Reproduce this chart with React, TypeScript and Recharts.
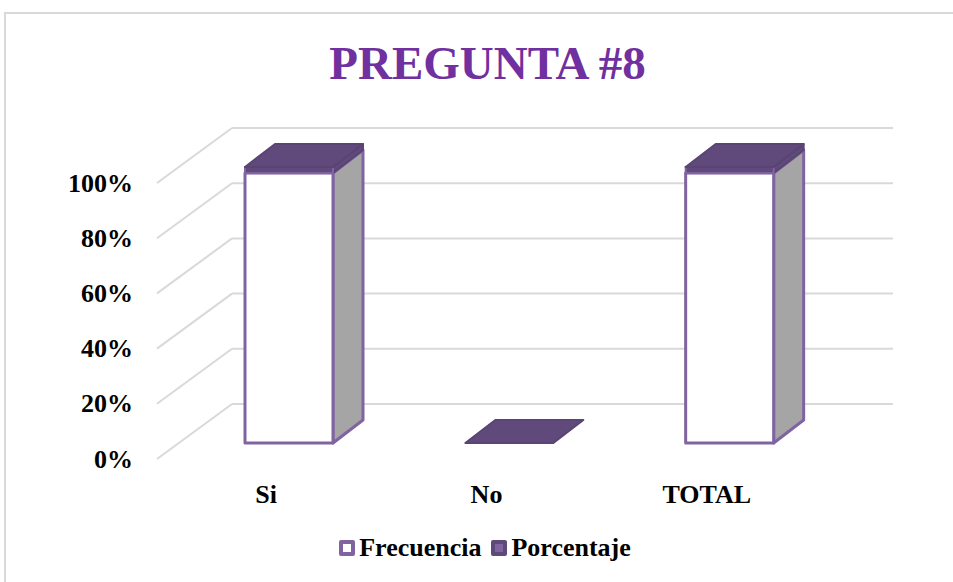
import React from 'react';
import { BarChart, Bar, XAxis, YAxis, CartesianGrid } from 'recharts';

const categories = ['Si', 'No', 'TOTAL'];
const frecuencia = [97.8, 0, 97.8];
const porcentaje = [2.2, 0, 2.2];
const yTicks = [0, 20, 40, 60, 80, 100];

const seriesNames = ['Frecuencia', 'Porcentaje'];

const data = categories.map((name, i) => ({
  name,
  frecuencia: frecuencia[i],
  porcentaje: porcentaje[i],
}));

const W = 953;
const H = 582;
const PLOT_LEFT = 179;
const PLOT_RIGHT = 840;
const PLOT_TOP = 167;
const PLOT_BOTTOM = 443;
const Y_AXIS_W = 60;
const X_AXIS_H = 40;

// depth offsets for the fake 3D look
const BAR_DX = 30;
const BAR_DY = -23;
const FLOOR_DX = -22;
const FLOOR_DY = 16;
const WALL_DX = 53;
const WALL_DY = -39;

const PURPLE = '#8064a2';
const DARK_PURPLE = '#604a7b';
const GRID = '#d9d9d9';
const FONT = '"Liberation Serif", "Times New Roman", serif';

const FrecuenciaShape = (props: any) => {
  const { x, y, width, height } = props;
  if (!height || height <= 0) return <g />;
  const side = `${x + width},${y + height} ${x + width + BAR_DX},${y + height + BAR_DY} ${x + width + BAR_DX},${y + BAR_DY} ${x + width},${y}`;
  return (
    <g>
      <polygon points={side} fill="#a5a5a5" stroke={PURPLE} strokeWidth={3} strokeLinejoin="round" />
      <rect x={x} y={y} width={width} height={height} fill="#ffffff" stroke={PURPLE} strokeWidth={3} strokeLinejoin="round" />
    </g>
  );
};

const PorcentajeShape = (props: any) => {
  const { x, y, width } = props;
  const height = Math.max(0, props.height || 0);
  const top = `${x},${y} ${x + BAR_DX},${y + BAR_DY} ${x + width + BAR_DX},${y + BAR_DY} ${x + width},${y}`;
  const side = `${x + width},${y + height} ${x + width + BAR_DX},${y + height + BAR_DY} ${x + width + BAR_DX},${y + BAR_DY} ${x + width},${y}`;
  return (
    <g>
      {height > 0 && (
        <>
          <polygon points={side} fill={DARK_PURPLE} stroke="#5a4474" strokeWidth={2} strokeLinejoin="round" />
          <rect x={x} y={y} width={width} height={height} fill={DARK_PURPLE} stroke={PURPLE} strokeWidth={2} />
        </>
      )}
      <polygon points={top} fill={DARK_PURPLE} stroke="#5a4474" strokeWidth={2} strokeLinejoin="round" />
    </g>
  );
};

const gridLine = (props: any) => {
  const { x1, x2, y1, index } = props;
  return (
    <g key={`grid-${index}`}>
      <line x1={x1 + FLOOR_DX} y1={y1 + FLOOR_DY} x2={x1 + WALL_DX} y2={y1 + WALL_DY} stroke={GRID} strokeWidth={2} />
      <line x1={x1 + WALL_DX} y1={y1 + WALL_DY} x2={x2 + WALL_DX} y2={y1 + WALL_DY} stroke={GRID} strokeWidth={2} />
    </g>
  );
};

const YTick = (props: any) => {
  const { y, payload } = props;
  return (
    <text x={PLOT_LEFT - 46} y={y + FLOOR_DY} textAnchor="end" dominantBaseline="central" fontFamily={FONT} fontWeight="bold" fontSize={26} fill="#000">
      {`${payload.value}%`}
    </text>
  );
};

const XTick = (props: any) => {
  const { x, payload } = props;
  return (
    <text x={x - 23} y={503} textAnchor="middle" fontFamily={FONT} fontWeight="bold" fontSize={26} fill="#000">
      {payload.value}
    </text>
  );
};

const legendMarkers = [
  { border: PURPLE, inner: '#ffffff' },
  { border: '#5f497a', inner: PURPLE },
];

export default function App() {
  return (
    <div style={{ position: 'absolute', left: 0, top: 0, width: W, height: H, overflow: 'hidden', background: '#fff', fontFamily: FONT }}>
      <div style={{ position: 'absolute', left: 4, top: 12, width: W + 20, height: H + 20, border: `2px solid ${GRID}`, boxSizing: 'border-box' }} />
      <div style={{ position: 'absolute', left: 0, top: 33, width: 975, textAlign: 'center', fontSize: 47, fontWeight: 'bold', color: '#7030a0', lineHeight: '60px' }}>
        PREGUNTA #8
      </div>
      <div style={{ position: 'absolute', left: 0, top: 0 }}>
        <BarChart
          width={W}
          height={H}
          data={data}
          margin={{ top: PLOT_TOP, right: W - PLOT_RIGHT, left: PLOT_LEFT - Y_AXIS_W, bottom: H - PLOT_BOTTOM - X_AXIS_H }}
        >
          <CartesianGrid vertical={false} horizontal={gridLine} />
          <XAxis dataKey="name" height={X_AXIS_H} axisLine={false} tickLine={false} tick={<XTick />} interval={0} />
          <YAxis width={Y_AXIS_W} domain={[0, 100]} ticks={yTicks} axisLine={false} tickLine={false} tick={<YTick />} interval={0} />
          <Bar dataKey="frecuencia" name={seriesNames[0]} stackId="a" barSize={88} shape={<FrecuenciaShape />} isAnimationActive={false} />
          <Bar dataKey="porcentaje" name={seriesNames[1]} stackId="a" barSize={88} shape={<PorcentajeShape />} isAnimationActive={false} />
        </BarChart>
      </div>
      <div style={{ position: 'absolute', left: 0, top: 532, width: 970, display: 'flex', justifyContent: 'center', alignItems: 'center', gap: 10, fontSize: 26, fontWeight: 'bold', color: '#000', lineHeight: '32px' }}>
        {seriesNames.map((n, i) => (
          <div key={n} style={{ display: 'flex', alignItems: 'center' }}>
            <div style={{ width: 16, height: 16, boxSizing: 'border-box', border: `4px solid ${legendMarkers[i].border}`, background: legendMarkers[i].inner, borderRadius: 2, marginRight: 4 }} />
            <span>{n}</span>
          </div>
        ))}
      </div>
    </div>
  );
}
